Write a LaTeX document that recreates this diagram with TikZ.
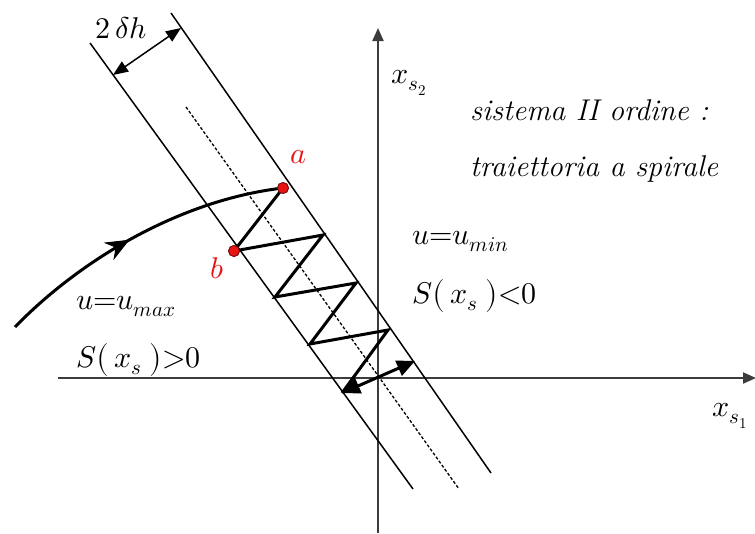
\documentclass[tikz,border=0pt]{standalone}
\usepackage{unicode-math}
\usetikzlibrary{arrows.meta,decorations.markings}
\definecolor{axisgray}{RGB}{60,60,60}
\definecolor{ptred}{RGB}{230,20,20}
\tikzset{
  axisline/.style={draw=axisgray,line width=2pt,-{Triangle[length=13pt,width=11pt]}},
  bandline/.style={line width=1.5pt},
  midline/.style={line width=1.3pt,dash pattern=on 3pt off 2pt},
  zig/.style={line width=3pt,line join=miter},
  bigtip/.style={line width=3pt,{Triangle[length=18pt,width=16pt]}-{Triangle[length=18pt,width=16pt]}},
  dimarrow/.style={line width=1.5pt,{Triangle[length=15pt,width=12pt]}-{Triangle[length=15pt,width=12pt]}},
  lbl/.style={inner sep=0pt,anchor=base west,font=\fontsize{30}{36}\selectfont},
  ttl/.style={inner sep=0pt,anchor=base west,font=\fontsize{30}{36}\selectfont\itshape},
  ptdot/.style={circle,fill=ptred,draw=ptred!55!black,line width=0.8pt,minimum size=11pt,inner sep=0pt},
  redlbl/.style={lbl,text=ptred},
  traj/.style={line width=3pt,postaction={decorate},
    decoration={markings,mark=at position 0.47 with {\arrow[line width=1pt]{Stealth[length=24pt,width=20pt,inset=8pt]}}}}
}
\begin{document}
\begin{tikzpicture}[x=1pt,y=-1pt]
\useasboundingbox (0,0) rectangle (755,533);
% axes
\coordinate (hs) at (58,378);
\coordinate (he) at (756,378);
\coordinate (vs) at (378,533);
\coordinate (ve) at (378,28);
\draw[axisline] (hs) -- (he);
\draw[axisline] (vs) -- (ve);
% band lines
\coordinate (l1a) at (90,43);  \coordinate (l1b) at (413,489);
\coordinate (l2a) at (171,13); \coordinate (l2b) at (491,473);
\coordinate (dma) at (186,107); \coordinate (dmb) at (459,489);
\draw[bandline] (l1a) -- (l1b);
\draw[bandline] (l2a) -- (l2b);
\draw[midline] (dma) -- (dmb);
% width dimension
\coordinate (w1) at (113,75);
\coordinate (w2) at (181,28);
\draw[dimarrow] (w1) -- (w2);
\node[lbl] (dh) at (95,38) {$2\,\delta h$};
% trajectory
\coordinate (st) at (15,327);
\node[ptdot] (a) at (283,188) {};
\node[ptdot] (b) at (234,251) {};
\coordinate (z1) at (323,235);
\coordinate (z2) at (275,297);
\coordinate (z3) at (356,283);
\coordinate (z4) at (310,344);
\coordinate (z5) at (388,330);
\coordinate (z6) at (342,393);
\coordinate (z7) at (415,361);
\draw[traj] (st) .. controls (80,260) and (180,200) .. (a.center);
\draw[zig] (a.center) -- (b.center) -- (z1) -- (z2) -- (z3) -- (z4) -- (z5) -- (z6);
\draw[bigtip] (z6) -- (z7);
\node[ptdot] at (a) {};
\node[ptdot] at (b) {};
% labels
\node[redlbl] (la) at (290,163) {$a$};
\node[redlbl] (lb) at (210,278) {$b$};
\node[lbl] (umax) at (76,309) {$u{=}u_{max}$};
\node[lbl] (spos) at (76,367) {$S\bigl(\,x_{s}\;\bigr){>}0$};
\node[lbl] (umin) at (412,244) {$u{=}u_{min}$};
\node[lbl] (sneg) at (412,303) {$S\bigl(\,x_{s}\;\bigr){<}0$};
\node[ttl] (t1) at (470,120) {sistema II ordine :};
\node[ttl] (t2) at (470,176) {traiettoria a spirale};
\node[lbl] (xs2) at (391,83) {$x_{s_2}$};
\node[lbl] (xs1) at (712,416) {$x_{s_1}$};
\end{tikzpicture}
\end{document}
